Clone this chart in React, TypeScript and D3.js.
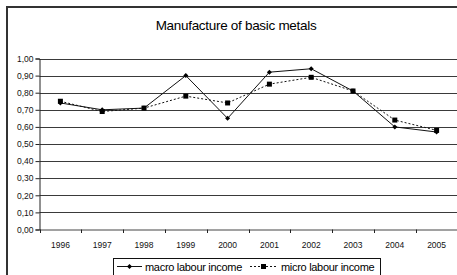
import React, { useRef, useEffect } from 'react';
import * as d3 from 'd3';

const years = ['1996', '1997', '1998', '1999', '2000', '2001', '2002', '2003', '2004', '2005'];
const macroLabour = [0.74, 0.70, 0.71, 0.90, 0.65, 0.92, 0.94, 0.81, 0.60, 0.57];
const microLabour = [0.75, 0.69, 0.71, 0.78, 0.74, 0.85, 0.89, 0.81, 0.64, 0.58];
const yTicks = [0, 0.1, 0.2, 0.3, 0.4, 0.5, 0.6, 0.7, 0.8, 0.9, 1.0];

const W = 457;
const H = 275;
const FONT = 'Liberation Sans, Arial, sans-serif';

const App: React.FC = () => {
  const svgRef = useRef<SVGSVGElement>(null);

  useEffect(() => {
    if (!svgRef.current) return;
    const svg = d3.select(svgRef.current);
    svg.selectAll('*').remove();

    // outer chart frame (cropped on right and bottom)
    svg.append('rect').attr('width', W).attr('height', H).attr('fill', '#fff');
    svg.append('path')
      .attr('d', `M7,${H} L7,7 L${W},7`)
      .attr('fill', 'none')
      .attr('stroke', '#333')
      .attr('stroke-width', 2);

    svg.append('text')
      .attr('x', 236)
      .attr('y', 30)
      .attr('text-anchor', 'middle')
      .attr('font-family', FONT)
      .attr('font-size', 13.5)
      .attr('letter-spacing', -0.3)
      .text('Manufacture of basic metals');

    const x = d3.scaleBand().domain(years).range([39.5, 457.5]);
    const y = d3.scaleLinear().domain([0, 1]).range([229.5, 58.5]);
    const cx = (d: string) => (x(d) || 0) + x.bandwidth() / 2;

    // gridlines
    svg.append('g')
      .selectAll('line')
      .data(yTicks.slice(1))
      .join('line')
      .attr('x1', 39.5)
      .attr('x2', W)
      .attr('y1', d => Math.round(y(d)) + 0.5)
      .attr('y2', d => Math.round(y(d)) + 0.5)
      .attr('stroke', '#3a3a3a')
      .attr('stroke-width', 1);

    // y axis
    const yAxis = svg.append('g')
      .attr('transform', 'translate(39.5,0)')
      .call(d3.axisLeft(y).tickValues(yTicks).tickSize(4).tickPadding(2)
        .tickFormat(d => d3.format('.2f')(d as number).replace('.', ',')));
    yAxis.select('.domain').attr('stroke', '#222');
    yAxis.selectAll('line').attr('stroke', '#222');
    yAxis.selectAll('text').attr('font-family', FONT).attr('font-size', 8.5).attr('fill', '#111');

    // x axis
    const xAxis = svg.append('g')
      .attr('transform', 'translate(0,229.5)')
      .call(d3.axisBottom(x).tickSize(0).tickPadding(12));
    xAxis.select('.domain').attr('stroke', '#444');
    xAxis.selectAll('text').attr('font-family', FONT).attr('font-size', 8.5).attr('fill', '#111');
    svg.append('g')
      .selectAll('line')
      .data(years)
      .join('line')
      .attr('x1', d => Math.round(x(d) || 0) + 0.5)
      .attr('x2', d => Math.round(x(d) || 0) + 0.5)
      .attr('y1', 229.5)
      .attr('y2', 233)
      .attr('stroke', '#222');

    const line = d3.line<number>()
      .x((_, i) => cx(years[i]))
      .y(d => y(d));

    svg.append('path')
      .datum(microLabour)
      .attr('d', line)
      .attr('fill', 'none')
      .attr('stroke', '#111')
      .attr('stroke-width', 1)
      .attr('stroke-dasharray', '2,2');

    svg.append('path')
      .datum(macroLabour)
      .attr('d', line)
      .attr('fill', 'none')
      .attr('stroke', '#111')
      .attr('stroke-width', 1);

    svg.append('g')
      .selectAll('rect')
      .data(microLabour)
      .join('rect')
      .attr('x', (_, i) => cx(years[i]) - 2.5)
      .attr('y', d => y(d) - 2.5)
      .attr('width', 5)
      .attr('height', 5)
      .attr('fill', '#000');

    const diamond = d3.symbol().type(d3.symbolDiamond2).size(16);
    svg.append('g')
      .selectAll('path')
      .data(macroLabour)
      .join('path')
      .attr('transform', (d, i) => `translate(${cx(years[i])},${y(d)})`)
      .attr('d', diamond)
      .attr('fill', '#000');

    // legend
    const lg = svg.append('g');
    lg.append('rect')
      .attr('x', 113.5).attr('y', 258.5)
      .attr('width', 267).attr('height', 30)
      .attr('fill', '#fff').attr('stroke', '#111');
    lg.append('line').attr('x1', 117).attr('x2', 142).attr('y1', 266.5).attr('y2', 266.5).attr('stroke', '#111');
    lg.append('path').attr('transform', 'translate(129.5,266.5)').attr('d', diamond).attr('fill', '#000');
    lg.append('text').attr('x', 145).attr('y', 270.5).attr('font-family', FONT).attr('font-size', 11)
      .attr('letter-spacing', -0.3).text('macro labour income');
    lg.append('line').attr('x1', 250).attr('x2', 277).attr('y1', 266.5).attr('y2', 266.5)
      .attr('stroke', '#111').attr('stroke-dasharray', '2,2');
    lg.append('rect').attr('x', 261).attr('y', 264).attr('width', 5).attr('height', 5).attr('fill', '#000');
    lg.append('text').attr('x', 281).attr('y', 270.5).attr('font-family', FONT).attr('font-size', 11)
      .attr('letter-spacing', -0.3).text('micro labour income');
  }, []);

  return (
    <svg ref={svgRef} width={W} height={H}
      style={{ position: 'absolute', left: 0, top: 0, display: 'block' }} />
  );
};

export default App;
